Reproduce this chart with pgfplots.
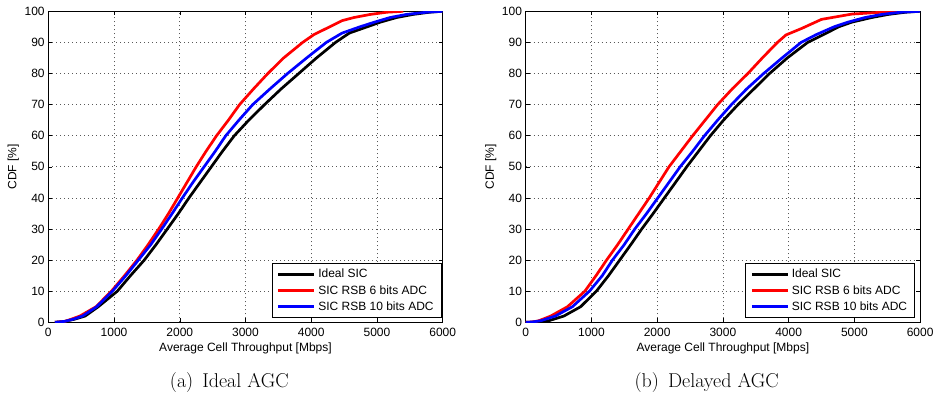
\documentclass[border=0pt]{standalone}
\usepackage{pgfplots}
\pgfplotsset{compat=1.18}
\usepackage{fontspec}
\newfontfamily\arialf{Liberation Sans}
\pgfplotsset{
  cdfaxis/.style={
    scale only axis, width=394.4pt, height=311pt,
    anchor=south west,
    xmin=0, xmax=6000, ymin=0, ymax=100,
    xtick={0,1000,...,6000}, ytick={0,10,...,100},
    scaled x ticks=false,
    /pgf/number format/1000 sep={},
    /pgf/number format/assume math mode=true,
    font=\arialf\fontsize{12}{14}\selectfont,
    tick align=inside, major tick length=4pt,
    tick style={black, line width=0.5pt},
    axis line style={black, line width=0.7pt},
    grid=major,
    major grid style={black!65, line width=0.6pt, dash pattern=on 0.8pt off 3.2pt},
    xticklabel style={anchor=base, inner sep=0pt, yshift=-14.4pt},
    yticklabel style={anchor=east, inner sep=0pt, xshift=-3.5pt},
    xlabel={Average Cell Throughput [Mbps]},
    ylabel={CDF [\%]},
    xlabel style={at={(axis description cs:0.5,-0.0826)}, anchor=center},
    ylabel style={at={(axis description cs:-0.0887,0.5)}, anchor=center},
    legend cell align=left,
    legend image code/.code={\draw[#1] (0pt,0pt) -- (36pt,0pt);},
    legend style={at={(0.997,0.015)}, anchor=south east, draw=black, line width=0.7pt,
      font=\arialf\fontsize{12}{14}\selectfont,
      inner xsep=5pt, inner ysep=3pt, row sep=1pt,
      nodes={inner sep=2.5pt}},
    every axis plot/.append style={line width=2.7pt, line join=round},
  }
}
\begin{document}
\begin{tikzpicture}[x=1pt,y=1pt]
\useasboundingbox (0,0) rectangle (940,398);
\begin{axis}[cdfaxis, at={(48.3pt,75.7pt)}]
\addplot[black] coordinates {(100,0) (250,0.3) (400,1) (560,2) (760,5) (1050,10) (1250,15) (1460,20) (1640,25) (1810,30) (1980,35) (2140,40) (2310,45) (2480,50) (2650,55) (2830,60) (3050,65) (3290,70) (3540,75) (3810,80) (4080,85) (4370,90) (4580,93) (4850,95) (5050,96.5) (5300,98) (5550,99) (5800,99.7) (6000,100)};
\addlegendentry{Ideal SIC}
\addplot[red] coordinates {(100,0) (250,0.3) (350,1) (480,2) (725,5) (960,10) (1160,15) (1350,20) (1520,25) (1680,30) (1830,35) (1970,40) (2110,45) (2250,50) (2400,55) (2560,60) (2740,65) (2910,70) (3120,75) (3340,80) (3580,85) (3870,90) (4040,92.5) (4280,95) (4470,97) (4650,98) (4900,99) (5150,99.7) (5400,100)};
\addlegendentry{SIC RSB 6 bits ADC}
\addplot[blue] coordinates {(100,0) (250,0.3) (380,1) (520,2) (735,5) (975,10) (1180,15) (1370,20) (1560,25) (1725,30) (1885,35) (2040,40) (2200,45) (2370,50) (2540,55) (2700,60) (2900,65) (3110,70) (3370,75) (3640,80) (3930,85) (4230,90) (4470,93) (4740,95) (4960,96.5) (5200,98) (5450,99) (5750,99.7) (6000,100)};
\addlegendentry{SIC RSB 10 bits ADC}
\end{axis}
\begin{axis}[cdfaxis, at={(525.7pt,75.7pt)}, legend style={at={(0.987,0.015)}}]
\addplot[black] coordinates {(0,0) (150,0.1) (350,0.5) (580,2) (835,5) (1075,10) (1260,15) (1430,20) (1600,25) (1765,30) (1940,35) (2110,40) (2280,45) (2450,50) (2630,55) (2810,60) (3010,65) (3230,70) (3470,75) (3710,80) (3980,85) (4290,90) (4530,92.5) (4760,95) (4960,96.5) (5265,98) (5518,99) (5780,99.7) (6000,100)};
\addlegendentry{Ideal SIC}
\addplot[red] coordinates {(0,0) (100,0.1) (200,0.5) (380,2) (635,5) (900,10) (1070,15) (1230,20) (1400,25) (1560,30) (1720,35) (1880,40) (2030,45) (2180,50) (2360,55) (2540,60) (2730,65) (2920,70) (3140,75) (3380,80) (3600,85) (3830,90) (3960,92.4) (4200,94.5) (4500,97.4) (4960,99.1) (5417,99.7) (5700,100)};
\addlegendentry{SIC RSB 6 bits ADC}
\addplot[blue] coordinates {(0,0) (100,0.1) (230,0.5) (450,2) (710,5) (970,10) (1165,15) (1320,20) (1500,25) (1660,30) (1840,35) (2010,40) (2180,45) (2350,50) (2540,55) (2720,60) (2920,65) (3130,70) (3360,75) (3620,80) (3900,85) (4190,90) (4420,92.5) (4690,95) (4900,96.5) (5163,98) (5417,99) (5700,99.7) (6000,100)};
\addlegendentry{SIC RSB 10 bits ADC}
\end{axis}
\node[font=\fontsize{20}{24}\selectfont] at (229.3,15) {(a)\hspace{0.45em}Ideal AGC};
\node[font=\fontsize{20}{24}\selectfont] at (706.7,15) {(b)\hspace{0.45em}Delayed AGC};
\end{tikzpicture}
\end{document}
